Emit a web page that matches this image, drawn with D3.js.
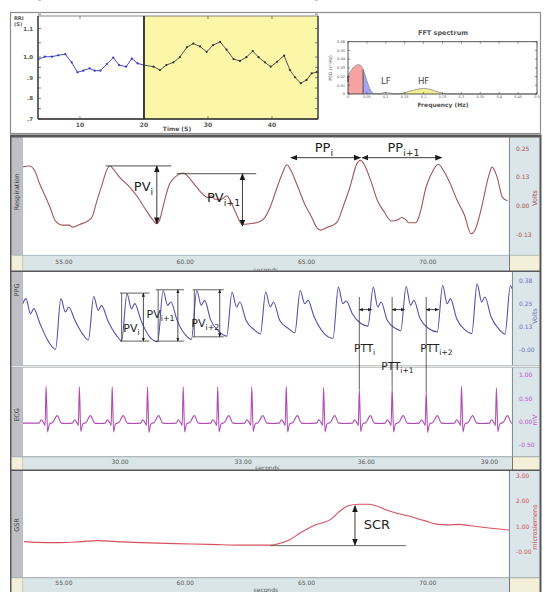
<!DOCTYPE html>
<html><head><meta charset="utf-8">
<script src="https://cdn.jsdelivr.net/npm/d3@7"></script>
<style>
body{margin:0;background:#fff}
svg{display:block}
text{font-family:"DejaVu Sans",sans-serif}
</style></head>
<body><svg id="c" width="545" height="592"></svg>
<script>
// ---------------- DATA ----------------
// RRI tachogram (s) vs time (s)
const rriTimeA = [3.5,4.5,5.6,6.6,7.7,8.7,9.6,10.5,11.5,12.3,13.2,14.2,15.2,16.1,17.2,18.1,19.0,20.0];
const rriValA  = [0.989,1.001,1.001,1.006,1.010,0.974,0.926,0.934,0.945,0.934,0.934,0.966,0.997,0.961,0.953,0.992,0.969,0.961];
const rriTimeB = [20.0,21.5,22.5,23.5,24.6,25.6,26.7,27.7,28.75,29.8,30.8,31.9,32.9,34.0,35.0,36.0,37.0,37.9,38.9,39.8,40.8,41.9,42.8,43.6,44.5,45.4,46.2,47.0];
const rriValB  = [0.961,0.953,0.937,0.961,0.974,0.999,1.034,1.047,1.037,1.018,1.042,1.053,1.026,0.990,0.981,0.999,1.021,0.999,0.974,0.953,0.977,1.005,0.937,0.902,0.873,0.889,0.921,0.927];
const rriXTicks = [10,20,30,40];
const rriYTicks = [0.7,0.8,0.9,1.0,1.1];
const rriYLabels = [".7",".8",".9","1.0","1.1"];

// FFT spectrum
const psdFreq = [0,0.005,0.01,0.015,0.02,0.025,0.03,0.035,0.04,0.045,0.05,0.055,0.06,0.065,0.07,0.08,0.09,0.1,0.11,0.12,0.13,0.14,0.15,0.16,0.17,0.18,0.19,0.2,0.21,0.22,0.23,0.24,0.25,0.26,0.3,0.4,0.5];
const psdVal  = [0.021,0.025,0.028,0.031,0.0325,0.0335,0.0335,0.032,0.028,0.022,0.015,0.009,0.004,0.0015,0.0005,0.0003,0.001,0.002,0.0012,0.0004,0.0002,0.0006,0.0015,0.0028,0.004,0.0052,0.006,0.0064,0.006,0.005,0.0035,0.002,0.0008,0.0002,0,0,0];
const fftXTicks = [0,0.05,0.1,0.15,0.2,0.25,0.3,0.35,0.4,0.45,0.5];
const fftYTicks = [0,0.01,0.02,0.03,0.04,0.05,0.06];
const bandVLF = [0,0.04], bandLF = [0.04,0.07], bandHF = [0.14,0.26];

// Respiration (Volts) vs seconds
const respTime = [53.29,53.58,53.79,54.00,54.22,54.43,54.65,54.93,55.22,55.36,55.65,55.93,56.15,56.36,56.58,56.79,56.90,57.08,57.29,57.65,58.00,58.36,58.65,58.82,58.93,59.08,59.22,59.36,59.58,59.79,59.93,60.08,60.36,60.65,60.93,61.08,61.22,61.50,61.72,61.86,62.08,62.36,62.65,62.93,63.22,63.50,63.79,64.00,64.19,64.36,64.65,64.93,65.22,65.43,65.58,65.86,66.15,66.29,66.50,66.79,67.08,67.22,67.36,67.65,67.93,68.22,68.50,68.72,68.93,69.08,69.22,69.50,69.65,69.93,70.22,70.43,70.65,70.93,71.22,71.50,71.79,71.93,72.22,72.50,72.65,72.86,73.08,73.29];
const respVal  = [0.169,0.174,0.154,0.096,0.044,-0.007,-0.066,-0.084,-0.084,-0.093,-0.081,-0.069,-0.051,0.022,0.096,0.162,0.174,0.154,0.125,0.088,0.044,-0.015,-0.059,-0.078,-0.066,-0.007,0.051,0.096,0.125,0.140,0.143,0.132,0.096,0.059,0.037,0.044,0.029,0.029,0.044,0.022,-0.029,-0.081,-0.078,-0.074,-0.059,-0.007,0.081,0.140,0.179,0.154,0.081,0.007,-0.051,-0.096,-0.106,-0.093,-0.081,-0.066,-0.007,0.081,0.184,0.199,0.184,0.110,0.022,-0.029,-0.066,-0.063,-0.051,-0.059,-0.074,-0.074,-0.044,0.081,0.154,0.181,0.154,0.096,0.022,-0.037,-0.122,-0.110,-0.007,0.125,0.169,0.125,0.037,0.022];
const respYTicks = [0.25,0.125,0,-0.125];
const slowXTicks = [55,60,65,70];

// PPG (Volts) vs seconds
const ppgPts = [[27.63,0.25],[27.71,0.277],[27.82,0.196],[27.90,0.223],[28.05,0.143],[28.26,0.045],
[28.43,0.004],[28.56,0.277],[28.67,0.205],[28.75,0.232],[28.90,0.161],[29.11,0.080],
[29.23,0.054],[29.36,0.289],[29.47,0.214],[29.55,0.241],[29.70,0.161],[29.91,0.080],
[30.04,0.050],[30.17,0.304],[30.28,0.223],[30.36,0.250],[30.51,0.161],[30.72,0.071],
[30.92,0.045],[31.05,0.321],[31.16,0.241],[31.24,0.259],[31.39,0.161],[31.60,0.080],
[31.74,0.057],[31.87,0.321],[31.98,0.241],[32.06,0.268],[32.21,0.161],[32.42,0.098],
[32.60,0.075],[32.73,0.313],[32.84,0.232],[32.92,0.259],[33.07,0.161],[33.28,0.107],
[33.42,0.086],[33.55,0.313],[33.66,0.232],[33.74,0.259],[33.89,0.161],[34.10,0.116],
[34.26,0.093],[34.39,0.321],[34.50,0.250],[34.58,0.268],[34.73,0.179],[34.94,0.098],
[35.19,0.063],[35.32,0.339],[35.43,0.250],[35.51,0.264],[35.66,0.196],[35.87,0.143],
[36.04,0.129],[36.17,0.339],[36.28,0.232],[36.36,0.259],[36.51,0.161],[36.72,0.116],
[36.84,0.104],[36.97,0.343],[37.08,0.241],[37.16,0.268],[37.31,0.170],[37.52,0.116],
[37.73,0.098],[37.86,0.348],[37.97,0.250],[38.05,0.277],[38.20,0.170],[38.41,0.107],
[38.57,0.089],[38.70,0.357],[38.81,0.259],[38.89,0.286],[39.04,0.179],[39.25,0.107],
[39.38,0.086],[39.51,0.348],[39.55,0.330]];
const ppgYTicks = [0.375,0.25,0.125,-0.0001];

// ECG (mV) vs seconds
const ecgPts = [[27.63,-0.03],[27.75,-0.03],[27.90,-0.03],
[28.03,-0.03],[28.08,0.04],[28.14,-0.02],[28.175,-0.08],[28.20,0.76],[28.235,-0.22],[28.28,-0.05],[28.37,-0.01],[28.47,0.13],[28.57,-0.03],[28.70,-0.04],
[28.84,-0.03],[28.89,0.04],[28.95,-0.02],[28.985,-0.08],[29.01,0.75],[29.045,-0.21],[29.09,-0.05],[29.18,-0.01],[29.28,0.13],[29.38,-0.03],[29.51,-0.04],
[29.64,-0.03],[29.69,0.04],[29.75,-0.02],[29.785,-0.08],[29.81,0.75],[29.845,-0.22],[29.89,-0.05],[29.98,-0.01],[30.08,0.13],[30.18,-0.03],[30.31,-0.04],
[30.50,-0.03],[30.55,0.04],[30.61,-0.02],[30.645,-0.08],[30.67,0.74],[30.705,-0.23],[30.75,-0.05],[30.84,-0.01],[30.94,0.13],[31.04,-0.03],[31.17,-0.04],
[31.37,-0.03],[31.42,0.04],[31.48,-0.02],[31.515,-0.08],[31.54,0.75],[31.575,-0.22],[31.62,-0.05],[31.71,-0.01],[31.81,0.13],[31.91,-0.03],[32.04,-0.04],
[32.21,-0.03],[32.26,0.04],[32.32,-0.02],[32.355,-0.08],[32.38,0.74],[32.415,-0.22],[32.46,-0.05],[32.55,-0.01],[32.65,0.13],[32.75,-0.03],[32.88,-0.04],
[33.04,-0.03],[33.09,0.04],[33.15,-0.02],[33.185,-0.08],[33.21,0.75],[33.245,-0.21],[33.29,-0.05],[33.38,-0.01],[33.48,0.13],[33.58,-0.03],[33.71,-0.04],
[33.88,-0.03],[33.93,0.04],[33.99,-0.02],[34.025,-0.08],[34.05,0.76],[34.085,-0.22],[34.13,-0.05],[34.22,-0.01],[34.32,0.13],[34.42,-0.03],[34.55,-0.04],
[34.79,-0.03],[34.84,0.04],[34.90,-0.02],[34.935,-0.08],[34.96,0.73],[34.995,-0.22],[35.04,-0.05],[35.13,-0.01],[35.23,0.13],[35.33,-0.03],[35.46,-0.04],
[35.66,-0.03],[35.71,0.04],[35.77,-0.02],[35.805,-0.08],[35.83,0.70],[35.865,-0.21],[35.91,-0.05],[36.00,-0.01],[36.10,0.13],[36.20,-0.03],[36.33,-0.04],
[36.46,-0.03],[36.51,0.04],[36.57,-0.02],[36.605,-0.08],[36.63,0.73],[36.665,-0.22],[36.71,-0.05],[36.80,-0.01],[36.90,0.13],[37.00,-0.03],[37.13,-0.04],
[37.29,-0.03],[37.34,0.04],[37.40,-0.02],[37.435,-0.08],[37.46,0.65],[37.495,-0.23],[37.54,-0.05],[37.63,-0.01],[37.73,0.13],[37.83,-0.03],[37.96,-0.04],
[38.15,-0.03],[38.20,0.04],[38.26,-0.02],[38.295,-0.08],[38.32,0.76],[38.355,-0.22],[38.40,-0.05],[38.49,-0.01],[38.59,0.13],[38.69,-0.03],[38.82,-0.04],
[39.00,-0.03],[39.05,0.04],[39.11,-0.02],[39.145,-0.08],[39.17,0.72],[39.205,-0.21],[39.25,-0.05],[39.34,-0.01],[39.44,0.13],[39.54,-0.03],[39.56,-0.03]];
const ecgYTicks = [1,0.5,0,-0.5];
const fastXTicks = [30,33,36,39];

// SCR / GSR (microsiemens) vs seconds
const scrPts = [[53.36,0.40],[53.86,0.37],[54.86,0.36],[55.72,0.40],[56.43,0.44],[57.15,0.40],[58.15,0.36],[59.57,0.32],[61.0,0.29],[62.43,0.26],[63.57,0.26],[63.86,0.32],[64.29,0.46],[64.72,0.73],[65.07,0.92],[65.36,1.06],[65.72,1.16],[66.0,1.28],[66.36,1.59],[66.72,1.82],[67.15,1.88],[67.57,1.88],[67.86,1.82],[68.29,1.65],[68.72,1.52],[69.29,1.39],[69.86,1.23],[70.43,1.08],[70.86,1.06],[71.29,1.08],[71.72,1.03],[72.43,0.95],[73.36,0.86]];
const scrYTicks = [3,2,1,-0.0001];

// annotations (data units)
const respPV = [{t0:56.72,t1:59.43,top:0.174,ta:58.83,bot:-0.078,lt:58.28,lv:0.066,sub:"i"},
                {t0:59.65,t1:62.93,top:0.140,ta:62.36,bot:-0.088,lt:61.58,lv:0.015,sub:"i+1"}];
const respPP = [{t0:64.36,t1:67.22,v:0.210,lt:65.72,lv:0.236,sub:"i"},
                {t0:67.29,t1:70.57,v:0.210,lt:69.0,lv:0.236,sub:"i+1"}];
const ppgPV = [{t0:30.00,t1:30.72,top:0.307,bot:0.048,tl:30.04,ta:30.57,lt:30.28,lv:0.098,sub:"i"},
               {t0:30.87,t1:31.56,top:0.325,bot:0.048,tl:30.93,ta:31.41,lt:30.99,lv:0.173,sub:"i+1"},
               {t0:31.77,t1:32.53,top:0.325,bot:0.071,tl:31.81,ta:32.43,lt:32.08,lv:0.125,sub:"i+2"}];
const pttR = [{t:35.83,r:0.70,dt:0.30,lt:35.96,sub:"i"},{t:36.63,r:0.73,dt:0.30,lt:36.76,sub:"i+1"},{t:37.46,r:0.65,dt:0.30,lt:37.71,sub:"i+2"}];
const scrAnn = {t0:63.5,t1:69.1,base:0.24,ta:67.0,top:1.82,bot:0.26,lt:67.9,lv:0.90};

// ---------------- DRAW ----------------
const svg = d3.select("#c");
const defs = svg.append("defs");
function marker(id, s){
  defs.append("marker").attr("id",id).attr("viewBox","0 0 10 10").attr("refX",9).attr("refY",5)
    .attr("markerWidth",s).attr("markerHeight",s).attr("markerUnits","userSpaceOnUse")
    .attr("orient","auto-start-reverse").append("path").attr("d","M0,1L10,5L0,9Z").attr("fill","#1a1a1a");
}
marker("ah",7); marker("ahs",4);
function clip(id,x,y,w,h){defs.append("clipPath").attr("id",id).append("rect").attr("x",x).attr("y",y).attr("width",w).attr("height",h);}
function subLabel(g,x,y,main,sub,size,anchor){
  const t=g.append("text").attr("x",x).attr("y",y).attr("text-anchor",anchor||"middle").attr("font-size",size).attr("fill","#1e1e1e");
  t.append("tspan").text(main);
  t.append("tspan").attr("dy",size*0.3).attr("font-size",size*0.72).text(sub);
  return t;
}

// ---- top box ----
svg.append("rect").attr("x",10.5).attr("y",12.5).attr("width",530).attr("height",121).attr("fill","#fff").attr("stroke","#8c8c8c").attr("stroke-width",1.2);

// RRI chart
const rx = d3.scaleLinear().domain([3.44,47.19]).range([38,318]);
const ry = d3.scaleLinear().domain([0.7,1.0,1.1]).range([119,57,28.5]);
const rri = svg.append("g");
rri.append("rect").attr("x",rx(20)).attr("y",16).attr("width",318-rx(20)).attr("height",103).attr("fill","#fcf6a8");
const rMinor = d3.range(14).map(i=>0.7+i*0.05);
rri.selectAll(".ym").data(rMinor).join("line").attr("x1",38).attr("x2",41).attr("y1",d=>ry(d)).attr("y2",d=>ry(d)).attr("stroke","#555").attr("stroke-width",0.7);
rri.selectAll(".ym2").data(rMinor).join("line").attr("x1",315).attr("x2",318).attr("y1",d=>ry(d)).attr("y2",d=>ry(d)).attr("stroke","#555").attr("stroke-width",0.7);
rri.selectAll(".xt").data(rriXTicks).join("line").attr("x1",d=>rx(d)).attr("x2",d=>rx(d)).attr("y1",16).attr("y2",19).attr("stroke","#555").attr("stroke-width",0.7);
rri.selectAll(".xb").data(rriXTicks).join("line").attr("x1",d=>rx(d)).attr("x2",d=>rx(d)).attr("y1",116).attr("y2",119).attr("stroke","#555").attr("stroke-width",0.7);
rri.append("rect").attr("x",38).attr("y",16).attr("width",280).attr("height",103).attr("fill","none").attr("stroke","#666").attr("stroke-width",0.8);
rri.append("line").attr("x1",38).attr("x2",38).attr("y1",16).attr("y2",119).attr("stroke","#333").attr("stroke-width",1.3);
rri.append("line").attr("x1",38).attr("x2",318).attr("y1",119).attr("y2",119).attr("stroke","#333").attr("stroke-width",1.3);
rri.append("line").attr("x1",rx(20)).attr("x2",rx(20)).attr("y1",16).attr("y2",119).attr("stroke","#2a2a2a").attr("stroke-width",1.8);
rri.append("line").attr("x1",318).attr("x2",318).attr("y1",16).attr("y2",119).attr("stroke","#333").attr("stroke-width",1.2);
rri.selectAll(".yl").data(rriYTicks).join("text").attr("x",33).attr("y",d=>ry(d)+2).attr("text-anchor","end")
  .attr("font-size",5.5).attr("font-weight","bold").attr("fill","#555").text((d,i)=>rriYLabels[i]);
rri.selectAll(".xl").data(rriXTicks).join("text").attr("x",d=>rx(d)).attr("y",127).attr("text-anchor","middle")
  .attr("font-size",6).attr("font-weight","bold").attr("fill","#555").text(d=>d);
rri.append("text").attr("x",177).attr("y",131).attr("text-anchor","middle").attr("font-size",6).attr("font-weight","bold").attr("fill","#555").text("Time (S)");
rri.append("text").attr("x",14).attr("y",20).attr("font-size",5).attr("font-weight","bold").attr("fill","#555").text("RRI");
rri.append("text").attr("x",14).attr("y",26).attr("font-size",5).attr("font-weight","bold").attr("fill","#555").text("(S)");
const rLine = d3.line().x(d=>rx(d[0])).y(d=>ry(d[1]));
const rA = d3.zip(rriTimeA,rriValA), rB = d3.zip(rriTimeB,rriValB);
rri.append("path").attr("d",rLine(rA)).attr("fill","none").attr("stroke","#4a4ad0").attr("stroke-width",1);
rri.selectAll(".da").data(rA).join("circle").attr("cx",d=>rx(d[0])).attr("cy",d=>ry(d[1])).attr("r",1.1).attr("fill","#3a3ab8");
rri.append("path").attr("d",rLine(rB)).attr("fill","none").attr("stroke","#555").attr("stroke-width",1);
rri.selectAll(".db").data(rB).join("circle").attr("cx",d=>rx(d[0])).attr("cy",d=>ry(d[1])).attr("r",1.1).attr("fill","#333");

// FFT chart
const fx = d3.scaleLinear().domain([0,0.5]).range([348,537]);
const fy = d3.scaleLinear().domain([0,0.06]).range([94,41.7]);
const fft = svg.append("g");
const psd = d3.zip(psdFreq,psdVal);
const fArea = d3.area().x(d=>fx(d[0])).y0(fy(0)).y1(d=>fy(d[1])).curve(d3.curveMonotoneX);
const inB = b => psd.filter(d=>d[0]>=b[0]-1e-9 && d[0]<=b[1]+1e-9);
fft.append("path").attr("d",fArea(inB(bandVLF))).attr("fill","#f4a2a2").attr("stroke","none");
fft.append("path").attr("d",fArea(inB(bandLF))).attr("fill","#a4a4f2").attr("stroke","none");
fft.append("path").attr("d",fArea(inB(bandHF))).attr("fill","#f2f08e").attr("stroke","none");
fft.append("path").attr("d",d3.line().x(d=>fx(d[0])).y(d=>fy(d[1])).curve(d3.curveMonotoneX)(psd)).attr("fill","none").attr("stroke","#8a8a9a").attr("stroke-width",0.8);
fft.append("line").attr("x1",fx(0.04)).attr("x2",fx(0.04)).attr("y1",fy(0)).attr("y2",fy(0.028)).attr("stroke","#444").attr("stroke-width",0.9);
fft.append("line").attr("x1",fx(0)).attr("x2",fx(0)).attr("y1",fy(0.014)).attr("y2",fy(0.021)).attr("stroke","#333").attr("stroke-width",1.2);
fft.append("rect").attr("x",348).attr("y",41.7).attr("width",189).attr("height",52.3).attr("fill","none").attr("stroke","#444").attr("stroke-width",0.9);
fft.selectAll(".fxt").data(fftXTicks).join("line").attr("x1",d=>fx(d)).attr("x2",d=>fx(d)).attr("y1",94).attr("y2",92).attr("stroke","#444").attr("stroke-width",0.6);
fft.selectAll(".fxt2").data(fftXTicks).join("line").attr("x1",d=>fx(d)).attr("x2",d=>fx(d)).attr("y1",41.7).attr("y2",43.7).attr("stroke","#444").attr("stroke-width",0.6);
fft.selectAll(".fyt").data(fftYTicks).join("line").attr("x1",348).attr("x2",350).attr("y1",d=>fy(d)).attr("y2",d=>fy(d)).attr("stroke","#444").attr("stroke-width",0.6);
fft.selectAll(".fyt2").data(fftYTicks).join("line").attr("x1",535).attr("x2",537).attr("y1",d=>fy(d)).attr("y2",d=>fy(d)).attr("stroke","#444").attr("stroke-width",0.6);
fft.selectAll(".fxl").data(fftXTicks).join("text").attr("x",d=>fx(d)).attr("y",98.3).attr("text-anchor","middle").attr("font-size",3.5).attr("fill","#555").text(d=>d3.format("~g")(d));
fft.selectAll(".fyl").data(fftYTicks).join("text").attr("x",345).attr("y",d=>fy(d)+1.3).attr("text-anchor","end").attr("font-size",3.6).attr("fill","#555").text(d=>d===0?"0":d3.format(".2f")(d));
fft.append("text").attr("x",443).attr("y",35).attr("text-anchor","middle").attr("font-size",6.5).attr("font-weight","bold").attr("fill","#555").text("FFT spectrum");
fft.append("text").attr("x",443).attr("y",106.5).attr("text-anchor","middle").attr("font-size",6).attr("font-weight","bold").attr("fill","#555").text("Frequency (Hz)");
fft.append("text").attr("transform","translate(332,68) rotate(-90)").attr("text-anchor","middle").attr("font-size",4.5).attr("fill","#555").text("PSD (s²/Hz)");
fft.append("text").attr("x",fx(0.1)).attr("y",84).attr("text-anchor","middle").attr("font-size",8.5).attr("fill","#444").text("LF");
fft.append("text").attr("x",fx(0.2)).attr("y",84).attr("text-anchor","middle").attr("font-size",8.5).attr("fill","#444").text("HF");

// ---- lower panels ----
svg.append("rect").attr("x",10).attr("y",134.5).attr("width",531.5).attr("height",457.5).attr("fill","#585858");
const LEFT=22.7, FRAME_R=541;
function panel(o){
  const g = svg.append("g");
  const plotH = o.plotBottom - o.top;
  g.append("rect").attr("x",11.5).attr("y",o.top).attr("width",LEFT-11.5).attr("height",plotH).attr("fill","#bfbfc7");
  g.append("text").attr("transform",`translate(${18.5},${o.labelY}) rotate(-90)`).attr("text-anchor","middle").attr("font-size",6.5).attr("fill","#444").text(o.label);
  g.append("rect").attr("x",LEFT).attr("y",o.top).attr("width",o.right-LEFT).attr("height",plotH).attr("fill","#fff");
  g.append("rect").attr("x",o.right+0.8).attr("y",o.top).attr("width",FRAME_R-o.right-2.3).attr("height",plotH).attr("fill","#dbe6ea");
  g.selectAll(".tl").data(o.yTicks).join("text").attr("x",o.right+7).attr("y",d=>o.y(d)+2.2).attr("font-size",6).attr("fill",o.tickColor)
    .text(d=>{const s=d3.format(".2f")(Math.abs(d)); return (d<0?"-":"")+s;});
  g.append("text").attr("transform",`translate(${537},${o.unitY}) rotate(-90)`).attr("text-anchor","middle").attr("font-size",6.5).attr("fill",o.tickColor).text(o.unit);
  g.append("line").attr("x1",o.right+0.4).attr("x2",o.right+0.4).attr("y1",o.top).attr("y2",o.plotBottom).attr("stroke","#8a9aa0").attr("stroke-width",0.8);
  if(o.bandBottom){
    const bh = o.bandBottom-o.plotBottom;
    g.append("rect").attr("x",11.5).attr("y",o.plotBottom).attr("width",LEFT-11.5).attr("height",bh).attr("fill","#f4efd8");
    g.append("rect").attr("x",LEFT).attr("y",o.plotBottom).attr("width",o.right-LEFT).attr("height",bh).attr("fill","#dae5e8");
    g.append("rect").attr("x",o.right+0.8).attr("y",o.plotBottom).attr("width",FRAME_R-o.right-2.3).attr("height",bh).attr("fill","#f4efd8");
    g.append("line").attr("x1",11.5).attr("x2",FRAME_R-1.5).attr("y1",o.plotBottom+0.3).attr("y2",o.plotBottom+0.3).attr("stroke","#9aa8ac").attr("stroke-width",0.7);
    const cid = o.id+"band"; clip(cid,LEFT,o.plotBottom,o.right-LEFT,bh);
    const bg = g.append("g").attr("clip-path",`url(#${cid})`);
    bg.selectAll(".xl").data(o.xTicks).join("text").attr("x",d=>o.x(d)).attr("y",o.plotBottom+o.tickDy).attr("text-anchor","middle").attr("font-size",6).attr("fill","#555").text(d=>d3.format(".2f")(d));
    bg.append("text").attr("x",(LEFT+o.right)/2).attr("y",o.plotBottom+o.secDy).attr("text-anchor","middle").attr("font-size",6).attr("fill","#555").text("seconds");
  }
  clip(o.id,LEFT,o.top,o.right-LEFT,plotH);
  return g.append("g").attr("clip-path",`url(#${o.id})`);
}

const xSlow = d3.scaleLinear().domain([53.3,73.35]).range([LEFT,509]);
const xSlowS = d3.scaleLinear().domain([53.3,73.35]).range([LEFT,509]);
const xFast = d3.scaleLinear().domain([27.63,39.55]).range([LEFT,512]);
const yResp = d3.scaleLinear().domain([-0.125,0.25]).range([234.5,148.5]);
const yPpg = d3.scaleLinear().domain([0,0.375]).range([350,280.5]);
const yEcg = d3.scaleLinear().domain([0,1]).range([421.7,375]);
const yScr = d3.scaleLinear().domain([0,3]).range([551.7,475.9]);

const pResp = panel({id:"cR",top:137.5,plotBottom:255,bandBottom:270.5,right:509,label:"Respiration",labelY:192,unit:"Volts",unitY:198,
  tickColor:"#a8504c",y:yResp,yTicks:respYTicks,x:xSlow,xTicks:slowXTicks,tickDy:9,secDy:17});
const pPpg = panel({id:"cP",top:272,plotBottom:365.5,right:512,label:"PPG",labelY:290,unit:"Volts",unitY:316,
  tickColor:"#6a72b4",y:yPpg,yTicks:ppgYTicks});
const pEcg = panel({id:"cE",top:367.5,plotBottom:456.5,bandBottom:469.5,right:512,label:"ECG",labelY:415,unit:"mV",unitY:420,
  tickColor:"#c055c8",y:yEcg,yTicks:ecgYTicks,x:xFast,xTicks:fastXTicks,tickDy:7.5,secDy:13.5});
const pScr = panel({id:"cS",top:471,plotBottom:577.5,bandBottom:592,right:509,label:"GSR",labelY:525,unit:"microsiemens",unitY:527,
  tickColor:"#d2505a",y:yScr,yTicks:scrYTicks,x:xSlowS,xTicks:slowXTicks,tickDy:7.5,secDy:14});
svg.append("rect").attr("x",11.5).attr("y",365.5).attr("width",528).attr("height",2).attr("fill","#e4e8e6");

// series
pResp.append("path").attr("d",d3.line().x(d=>xSlow(d[0])).y(d=>yResp(d[1])).curve(d3.curveMonotoneX)(d3.zip(respTime,respVal)))
  .attr("fill","none").attr("stroke","#a2565a").attr("stroke-width",1.1);
pPpg.append("path").attr("d",d3.line().x(d=>xFast(d[0])).y(d=>yPpg(d[1])).curve(d3.curveMonotoneX)(ppgPts))
  .attr("fill","none").attr("stroke","#5252a8").attr("stroke-width",1.1);
pEcg.append("path").attr("d",d3.line().x(d=>xFast(d[0])).y(d=>yEcg(d[1])).curve(d3.curveMonotoneX)(ecgPts))
  .attr("fill","none").attr("stroke","#b04cb4").attr("stroke-width",1.1);
pScr.append("path").attr("d",d3.line().x(d=>xSlowS(d[0])).y(d=>yScr(d[1])).curve(d3.curveMonotoneX)(scrPts))
  .attr("fill","none").attr("stroke","#d8505e").attr("stroke-width",1.1);

// ---- annotations ----
const ann = svg.append("g");
const LC="#3a3a3a";
respPV.forEach(a=>{
  ann.append("line").attr("x1",xSlow(a.t0)).attr("x2",xSlow(a.t1)).attr("y1",yResp(a.top)).attr("y2",yResp(a.top)).attr("stroke",LC).attr("stroke-width",0.9);
  ann.append("line").attr("x1",xSlow(a.ta)).attr("x2",xSlow(a.ta)).attr("y1",yResp(a.top)).attr("y2",yResp(a.bot)).attr("stroke",LC).attr("stroke-width",1)
    .attr("marker-start","url(#ah)").attr("marker-end","url(#ah)");
  subLabel(ann,xSlow(a.lt),yResp(a.lv),"PV",a.sub,13);
});
respPP.forEach(a=>{
  ann.append("line").attr("x1",xSlow(a.t0)).attr("x2",xSlow(a.t1)).attr("y1",yResp(a.v)).attr("y2",yResp(a.v)).attr("stroke",LC).attr("stroke-width",1)
    .attr("marker-start","url(#ah)").attr("marker-end","url(#ah)");
  subLabel(ann,xSlow(a.lt),yResp(a.lv),"PP",a.sub,13);
});
ppgPV.forEach(a=>{
  [a.top,a.bot].forEach(v=>ann.append("line").attr("x1",xFast(a.t0)).attr("x2",xFast(a.t1)).attr("y1",yPpg(v)).attr("y2",yPpg(v)).attr("stroke",LC).attr("stroke-width",0.8));
  ann.append("line").attr("x1",xFast(a.tl)).attr("x2",xFast(a.tl)).attr("y1",yPpg(a.top)).attr("y2",yPpg(a.bot)).attr("stroke",LC).attr("stroke-width",0.8);
  ann.append("line").attr("x1",xFast(a.ta)).attr("x2",xFast(a.ta)).attr("y1",yPpg(a.top)).attr("y2",yPpg(a.bot)).attr("stroke",LC).attr("stroke-width",0.9)
    .attr("marker-start","url(#ahs)").attr("marker-end","url(#ahs)");
  subLabel(ann,xFast(a.lt),yPpg(a.lv),"PV",a.sub,11);
});
pttR.forEach((a,i)=>{
  ann.append("line").attr("x1",xFast(a.t)).attr("x2",xFast(a.t)).attr("y1",yPpg(0.286)).attr("y2",yEcg(a.r)).attr("stroke",LC).attr("stroke-width",0.8);
  ann.append("line").attr("x1",xFast(a.t)).attr("x2",xFast(a.t+a.dt)).attr("y1",yPpg(0.218)).attr("y2",yPpg(0.218)).attr("stroke",LC).attr("stroke-width",0.9)
    .attr("marker-start","url(#ahs)").attr("marker-end","url(#ahs)");
  const ly = i===1 ? yEcg(1.11) : yPpg(-0.009);
  subLabel(ann,xFast(a.lt),ly,"PTT",a.sub,10.5);
});
ann.append("line").attr("x1",xSlowS(scrAnn.t0)).attr("x2",xSlowS(scrAnn.t1)).attr("y1",yScr(scrAnn.base)).attr("y2",yScr(scrAnn.base)).attr("stroke","#555").attr("stroke-width",0.9);
ann.append("line").attr("x1",xSlowS(scrAnn.ta)).attr("x2",xSlowS(scrAnn.ta)).attr("y1",yScr(scrAnn.top)).attr("y2",yScr(scrAnn.bot)).attr("stroke",LC).attr("stroke-width",1)
  .attr("marker-start","url(#ah)").attr("marker-end","url(#ah)");
ann.append("text").attr("x",xSlowS(scrAnn.lt)).attr("y",yScr(scrAnn.lv)).attr("text-anchor","middle").attr("font-size",13).attr("fill","#1e1e1e").text("SCR");
</script>
</body></html>
